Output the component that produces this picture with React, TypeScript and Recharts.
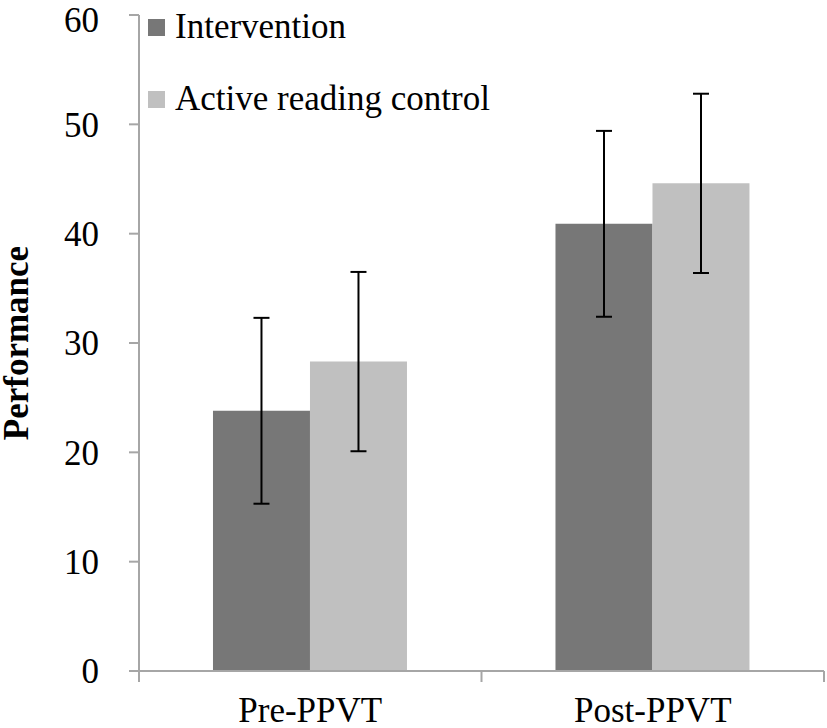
import React from 'react';
import { BarChart, Bar, XAxis, YAxis, ErrorBar, Label } from 'recharts';

const categories = ['Pre-PPVT', 'Post-PPVT'];
const interventionMean = [23.8, 40.9];
const interventionErr = [8.5, 8.5];
const activeMean = [28.3, 44.6];
const activeErr = [8.2, 8.2];
const yTicks = [0, 10, 20, 30, 40, 50, 60];
const seriesNames = ['Intervention', 'Active reading control'];
const seriesColors = ['#777777', '#c0c0c0'];

const data = categories.map((name, i) => ({
  name,
  intervention: interventionMean[i],
  interventionErr: interventionErr[i],
  active: activeMean[i],
  activeErr: activeErr[i],
}));

const W = 827;
const H = 728;
const AXIS_LEFT = 139;
const AXIS_BOTTOM = 57;
const MARGIN = { top: 15, right: 3, left: 0, bottom: 0 };
const AXIS_Y = H - AXIS_BOTTOM;
const BAND = (W - AXIS_LEFT - MARGIN.right) / categories.length;
const GRAY = '#a6a6a6';
const FONT = '"Liberation Serif", "Times New Roman", serif';

const XTick = ({ x, payload, index }: any) => (
  <g>
    <line x1={x - BAND / 2} x2={x - BAND / 2} y1={AXIS_Y} y2={AXIS_Y + 11} stroke={GRAY} strokeWidth={2} />
    {index === categories.length - 1 && (
      <line x1={x + BAND / 2} x2={x + BAND / 2} y1={AXIS_Y} y2={AXIS_Y + 11} stroke={GRAY} strokeWidth={2} />
    )}
    <text x={x} y={722} textAnchor="middle" fontSize={35} fill="#000" fontFamily={FONT}>
      {payload.value}
    </text>
  </g>
);

// legend drawn as an overlay so it doesn't eat into the plot area
const LegendBox = () => (
  <div style={{ position: 'absolute', left: 148, top: 9, fontFamily: FONT, fontSize: 35, color: '#000' }}>
    {seriesNames.map((name, i) => (
      <div key={name} style={{ display: 'flex', alignItems: 'center', height: 36, marginBottom: i === 0 ? 36 : 0 }}>
        <span style={{ width: 17, height: 17, background: seriesColors[i], display: 'inline-block', marginRight: 10 }} />
        <span style={{ lineHeight: '36px', whiteSpace: 'nowrap' }}>{name}</span>
      </div>
    ))}
  </div>
);

export default function App() {
  return (
    <div style={{ position: 'absolute', left: 0, top: 0, width: W, height: H, background: '#fff', fontFamily: FONT }}>
      <BarChart width={W} height={H} data={data} margin={MARGIN} barCategoryGap="21.6%" barGap={0}>
        <XAxis
          dataKey="name"
          height={AXIS_BOTTOM}
          axisLine={{ stroke: GRAY, strokeWidth: 2 }}
          tickLine={false}
          tick={<XTick />}
          interval={0}
        />
        <YAxis
          width={AXIS_LEFT}
          domain={[0, 60]}
          ticks={yTicks}
          axisLine={{ stroke: GRAY, strokeWidth: 2 }}
          tickLine={{ stroke: GRAY, strokeWidth: 2 }}
          tickSize={10}
          tickMargin={30}
          tick={{ fill: '#000', fontSize: 35, fontFamily: FONT }}
        >
          <Label
            value="Performance"
            angle={-90}
            position="insideLeft"
            offset={16}
            style={{ textAnchor: 'middle', fontWeight: 'bold', fontSize: 35, fill: '#000', fontFamily: FONT }}
          />
        </YAxis>
        <Bar dataKey="intervention" name={seriesNames[0]} fill={seriesColors[0]} isAnimationActive={false}>
          <ErrorBar dataKey="interventionErr" width={8} stroke="#000" strokeWidth={2} />
        </Bar>
        <Bar dataKey="active" name={seriesNames[1]} fill={seriesColors[1]} isAnimationActive={false}>
          <ErrorBar dataKey="activeErr" width={8} stroke="#000" strokeWidth={2} />
        </Bar>
      </BarChart>
      <LegendBox />
    </div>
  );
}
